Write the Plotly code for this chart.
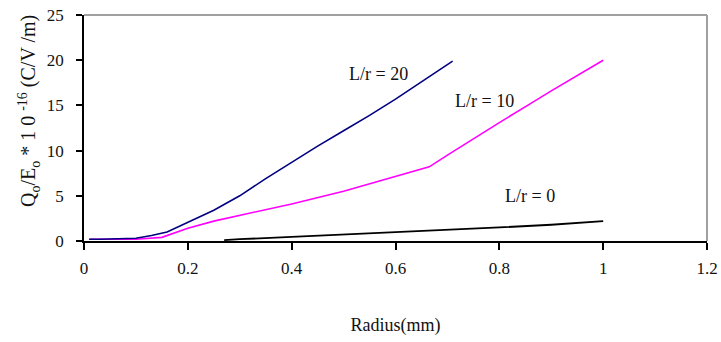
import plotly.graph_objects as go

# L/r = 20 (navy)
r20 = [0.01, 0.03, 0.10, 0.13, 0.16, 0.20, 0.25, 0.30, 0.35, 0.40, 0.45, 0.50, 0.55, 0.60, 0.65, 0.71]
q20 = [0.2, 0.2, 0.3, 0.6, 1.0, 2.1, 3.4, 5.0, 6.9, 8.7, 10.5, 12.2, 13.9, 15.7, 17.6, 19.9]

# L/r = 10 (magenta)
r10 = [0.01, 0.10, 0.15, 0.20, 0.25, 0.30, 0.40, 0.50, 0.60, 0.665, 0.70, 0.76, 0.80, 0.86, 0.90, 1.00]
q10 = [0.2, 0.2, 0.4, 1.4, 2.2, 2.85, 4.1, 5.5, 7.1, 8.2, 9.5, 11.7, 13.1, 15.2, 16.6, 20.0]

# L/r = 0 (black)
r0 = [0.27, 0.30, 0.40, 0.50, 0.60, 0.70, 0.80, 0.90, 1.00]
q0 = [0.1, 0.2, 0.45, 0.7, 0.95, 1.2, 1.5, 1.8, 2.2]

labels = ["L/r = 20", "L/r = 10", "L/r = 0"]
label_x = [0.568, 0.772, 0.86]
label_y = [18.5, 15.5, 5.0]

x_ticks = [0, 0.2, 0.4, 0.6, 0.8, 1, 1.2]
x_tick_text = ["0", "0.2", "0.4", "0.6", "0.8", "1", "1.2"]
y_ticks = [0, 5, 10, 15, 20, 25]

x_title = "Radius(mm)"
y_title = "Q<sub>o</sub>/E<sub>o</sub> * 1 0 <sup>-16</sup> (C/V /m)"

FONT = "Liberation Serif, Times New Roman, serif"

fig = go.Figure()
fig.add_trace(go.Scatter(x=r0, y=q0, mode="lines", line=dict(color="#000000", width=1.8), name=labels[2]))
fig.add_trace(go.Scatter(x=r10, y=q10, mode="lines", line=dict(color="#FF00FF", width=1.6), name=labels[1]))
fig.add_trace(go.Scatter(x=r20, y=q20, mode="lines", line=dict(color="#000080", width=1.6), name=labels[0]))

for t, xx, yy in zip(labels, label_x, label_y):
    fig.add_annotation(x=xx, y=yy, text=t, showarrow=False, xref="x", yref="y",
                       font=dict(family=FONT, size=18, color="#111111"))

# y-axis title as a rotated annotation for exact placement
fig.add_annotation(x=-0.0883, y=0.575, xref="paper", yref="paper", text=y_title,
                   textangle=-90, showarrow=False, xanchor="center", yanchor="middle",
                   font=dict(family=FONT, size=20, color="#111111"))

# gray frame on top and right
fig.add_shape(type="line", xref="paper", yref="paper", x0=0, x1=1, y0=1, y1=1,
              line=dict(color="#a0a0a0", width=2))
fig.add_shape(type="line", xref="paper", yref="paper", x0=1, x1=1, y0=0, y1=1,
              line=dict(color="#a0a0a0", width=2))

fig.update_layout(
    width=721, height=342,
    margin=dict(l=84, r=14, t=15, b=101, autoexpand=False),
    paper_bgcolor="white", plot_bgcolor="white",
    showlegend=False,
    font=dict(family=FONT, size=17, color="#111111"),
)
fig.update_xaxes(
    range=[0, 1.2], tickvals=x_ticks, ticktext=x_tick_text, automargin=False,
    showgrid=False, zeroline=False, showline=True, linecolor="black", linewidth=1.5,
    ticks="outside", ticklen=7, tickcolor="black", tickwidth=1.5,
    tickfont=dict(family=FONT, size=17), ticklabelstandoff=4,
    title=dict(text=x_title, font=dict(family=FONT, size=18), standoff=41),
)
fig.update_yaxes(
    range=[0, 25], tickvals=y_ticks, automargin=False,
    showgrid=False, zeroline=False, showline=True, linecolor="black", linewidth=1.5,
    ticks="outside", ticklen=6, tickcolor="black", tickwidth=1.5,
    tickfont=dict(family=FONT, size=17), ticklabelstandoff=9,
)

fig.write_html("out.html", config={"displayModeBar": False},
               post_script="document.body.style.margin='0';document.body.style.overflow='hidden';")
